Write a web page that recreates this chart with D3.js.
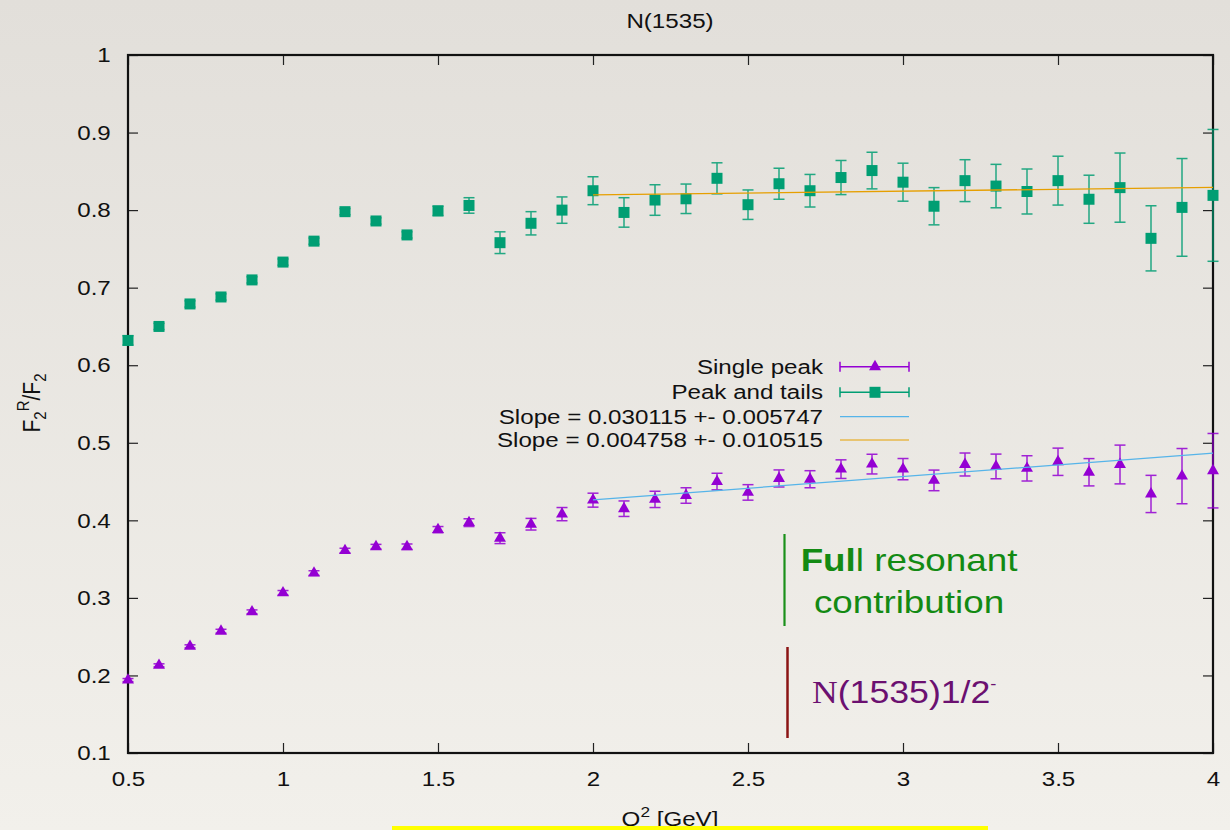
<!DOCTYPE html>
<html>
<head>
<meta charset="utf-8">
<script src="https://cdn.jsdelivr.net/npm/d3@7"></script>
<style>
  html, body { margin:0; padding:0; background:#ebe8e3; }
  svg { display:block; font-family: "Liberation Sans", Arial, sans-serif; }
</style>
</head>
<body>
<div id="chart"></div>
<script>
// data
var q2 = [0.5,0.6,0.7,0.8,0.9,1.0,1.1,1.2,1.3,1.4,1.5,1.6,1.7,1.8,1.9,2.0,2.1,2.2,2.3,2.4,2.5,2.6,2.7,2.8,2.9,3.0,3.1,3.2,3.3,3.4,3.5,3.6,3.7,3.8,3.9,4.0];
var singlePeak = [0.194,0.213,0.2375,0.257,0.282,0.3065,0.332,0.361,0.366,0.366,0.388,0.397,0.377,0.395,0.408,0.426,0.415,0.427,0.432,0.450,0.436,0.454,0.453,0.466,0.4725,0.466,0.4515,0.472,0.4695,0.467,0.4755,0.462,0.472,0.434,0.457,0.464];
var singlePeakErr = [0.002,0.002,0.002,0.0025,0.0025,0.003,0.003,0.003,0.003,0.0035,0.004,0.005,0.007,0.0075,0.0085,0.009,0.010,0.0105,0.010,0.0107,0.010,0.011,0.011,0.012,0.0127,0.0137,0.0133,0.0148,0.0159,0.0163,0.0176,0.0176,0.025,0.024,0.0356,0.048];
var peakTails = [0.632,0.650,0.679,0.688,0.710,0.733,0.760,0.798,0.786,0.768,0.799,0.806,0.758,0.783,0.800,0.825,0.797,0.813,0.8146,0.841,0.807,0.834,0.825,0.842,0.851,0.836,0.805,0.838,0.831,0.824,0.838,0.814,0.829,0.7636,0.8035,0.819];
var peakTailsErr = [0.006,0.004,0.004,0.004,0.004,0.004,0.004,0.004,0.004,0.004,0.006,0.010,0.014,0.015,0.017,0.018,0.019,0.0197,0.019,0.020,0.019,0.020,0.021,0.022,0.0236,0.0245,0.024,0.027,0.028,0.029,0.0315,0.031,0.0446,0.042,0.063,0.085];

// linear fits y = a + b*x over [2,4]
var fitSlope = [0.030115, 0.004758];
var fitIntercept = [0.3661, 0.8102];
var fitRange = [2, 4];

var legendLabels = ["Single peak", "Peak and tails", "Slope = 0.030115 +- 0.005747", "Slope = 0.004758 +- 0.010515"];
var xTicks = [0.5,1,1.5,2,2.5,3,3.5,4];
var yTicks = [0.1,0.2,0.3,0.4,0.5,0.6,0.7,0.8,0.9,1];

var width = 1230, height = 830;
var SX = 1.15; // the picture is a bit wide-stretched
var purple = "#9400d3", green = "#009e73", blue = "#56b4e9", orange = "#e69f00";

var svg = d3.select("#chart").append("svg")
  .attr("width", width).attr("height", height);

var defs = svg.append("defs");
var grad = defs.append("linearGradient").attr("id","paper")
  .attr("x1",0).attr("y1",0).attr("x2",0).attr("y2",1);
grad.append("stop").attr("offset","0%").attr("stop-color","#e2dfda");
grad.append("stop").attr("offset","100%").attr("stop-color","#f2f0eb");
svg.append("rect").attr("width",width).attr("height",height).attr("fill","url(#paper)");

var x = d3.scaleLinear().domain([0.5,4]).range([128,1213]);
var y = d3.scaleLinear().domain([0.1,1]).range([753,55]);

// stretched text helper
function stext(px, py, str, size, anchor, color) {
  var g = svg.append("g").attr("transform","translate("+px+","+py+") scale("+SX+",1)");
  return g.append("text").attr("text-anchor", anchor || "start")
    .attr("font-size", size).attr("fill", color || "#111").text(str);
}

// axes
var fmt = function(d){ return String(+d.toFixed(1)); };
var xAxis = svg.append("g").attr("transform","translate(0,753)")
  .call(d3.axisBottom(x).tickValues(xTicks).tickSize(-10).tickSizeOuter(0).tickPadding(18).tickFormat(fmt));
var yAxis = svg.append("g").attr("transform","translate(128,0)")
  .call(d3.axisLeft(y).tickValues(yTicks).tickSize(-10).tickSizeOuter(0).tickPadding(15).tickFormat(fmt));
svg.append("g").attr("transform","translate(0,55)")
  .call(d3.axisTop(x).tickValues(xTicks).tickSize(-10).tickSizeOuter(0).tickFormat(""));
svg.append("g").attr("transform","translate(1213,0)")
  .call(d3.axisRight(y).tickValues(yTicks).tickSize(-10).tickSizeOuter(0).tickFormat(""));

svg.selectAll(".tick line").attr("stroke","#222").attr("stroke-width",1.2);
svg.selectAll(".domain").attr("stroke","none");
svg.selectAll(".tick text").attr("font-size",21).attr("fill","#111")
  .attr("font-family","Liberation Sans, Arial, sans-serif")
  .attr("transform","scale("+SX+",1)");

svg.append("rect").attr("x",128).attr("y",55).attr("width",1213-128).attr("height",753-55)
  .attr("fill","none").attr("stroke","#111").attr("stroke-width",2.2);

// title and axis labels
stext(670, 28, "N(1535)", 21, "middle");

var xl = stext(670, 826, "", 21, "middle");
xl.append("tspan").text("Q");
xl.append("tspan").attr("font-size",15).attr("dy",-9).text("2");
xl.append("tspan").attr("dy",9).text(" [GeV]");

var yg = svg.append("g").attr("transform","translate(40,403) scale("+SX+",1) rotate(-90)");
var yl = yg.append("text").attr("text-anchor","middle").attr("font-size",21).attr("fill","#111");
yl.append("tspan").text("F");
yl.append("tspan").attr("font-size",15).attr("dy",5).text("2");
yl.append("tspan").attr("font-size",15).attr("dy",-15).text("R");
yl.append("tspan").attr("dy",10).text("/F");
yl.append("tspan").attr("font-size",15).attr("dy",5).text("2");

// error bars + markers
function series(vals, errs, color, shape) {
  var g = svg.append("g");
  var pts = q2.map(function(d,i){ return {x:d, y:vals[i], e:errs[i]}; });
  var eb = g.selectAll(".eb").data(pts).enter().append("g")
    .attr("stroke", color).attr("stroke-width",1.5).attr("opacity",0.85);
  eb.append("line").attr("x1",function(d){return x(d.x);}).attr("x2",function(d){return x(d.x);})
    .attr("y1",function(d){return y(d.y-d.e);}).attr("y2",function(d){return y(d.y+d.e);});
  eb.append("line").attr("x1",function(d){return x(d.x)-5.5;}).attr("x2",function(d){return x(d.x)+5.5;})
    .attr("y1",function(d){return y(d.y-d.e);}).attr("y2",function(d){return y(d.y-d.e);});
  eb.append("line").attr("x1",function(d){return x(d.x)-5.5;}).attr("x2",function(d){return x(d.x)+5.5;})
    .attr("y1",function(d){return y(d.y+d.e);}).attr("y2",function(d){return y(d.y+d.e);});
  g.selectAll(".pt").data(pts).enter().append("path")
    .attr("d", d3.symbol().type(shape).size(shape === d3.symbolSquare ? 121 : 62))
    .attr("transform", function(d){ return "translate("+x(d.x)+","+y(d.y)+")"; })
    .attr("fill", color);
}
series(singlePeak, singlePeakErr, purple, d3.symbolTriangle);
series(peakTails, peakTailsErr, green, d3.symbolSquare);

// fit lines
var fitColors = [blue, orange];
fitSlope.forEach(function(b,i){
  var a = fitIntercept[i];
  svg.append("line")
    .attr("x1", x(fitRange[0])).attr("y1", y(a + b*fitRange[0]))
    .attr("x2", x(fitRange[1])).attr("y2", y(a + b*fitRange[1]))
    .attr("stroke", fitColors[i]).attr("stroke-width",1.3);
});

// legend
var legY = [366.7, 392.3, 416.7, 440];
legendLabels.forEach(function(t,i){
  stext(823, legY[i]+7, t, 21, "end");
  var c = [purple, green, blue, orange][i];
  var lg = svg.append("g").attr("stroke", c).attr("stroke-width", i < 2 ? 1.5 : 1.2);
  lg.append("line").attr("x1",840).attr("x2",909).attr("y1",legY[i]).attr("y2",legY[i]);
  if (i < 2) {
    lg.append("line").attr("x1",840).attr("x2",840).attr("y1",legY[i]-5).attr("y2",legY[i]+5);
    lg.append("line").attr("x1",909).attr("x2",909).attr("y1",legY[i]-5).attr("y2",legY[i]+5);
    svg.append("path")
      .attr("d", d3.symbol().type(i === 0 ? d3.symbolTriangle : d3.symbolSquare).size(i === 0 ? 62 : 121))
      .attr("transform","translate(875,"+legY[i]+")").attr("fill", c);
  }
});

// annotations
svg.append("line").attr("x1",784.5).attr("x2",784.5).attr("y1",534).attr("y2",626)
  .attr("stroke","#1a901a").attr("stroke-width",2.2);
var t1 = stext(909, 571, "", 32, "middle", "#138a13");
t1.append("tspan").attr("font-weight","bold").text("Ful");
t1.append("tspan").text("l resonant");
stext(909, 613, "contribution", 32, "middle", "#138a13");

svg.append("line").attr("x1",787.5).attr("x2",787.5).attr("y1",647).attr("y2",738)
  .attr("stroke","#8b1414").attr("stroke-width",2.5);
var t2 = stext(812, 703, "", 31, "start", "#6b1070");
t2.append("tspan").attr("font-family","Liberation Serif, Times New Roman, serif").text("N");
t2.append("tspan").text("(1535)1/2");
t2.append("tspan").attr("font-size",16).attr("dy",-14).text("-");

// yellow highlight strip at the bottom
svg.append("rect").attr("x",392).attr("y",826).attr("width",988-392).attr("height",4).attr("fill","#ffff00");
</script>
</body>
</html>
